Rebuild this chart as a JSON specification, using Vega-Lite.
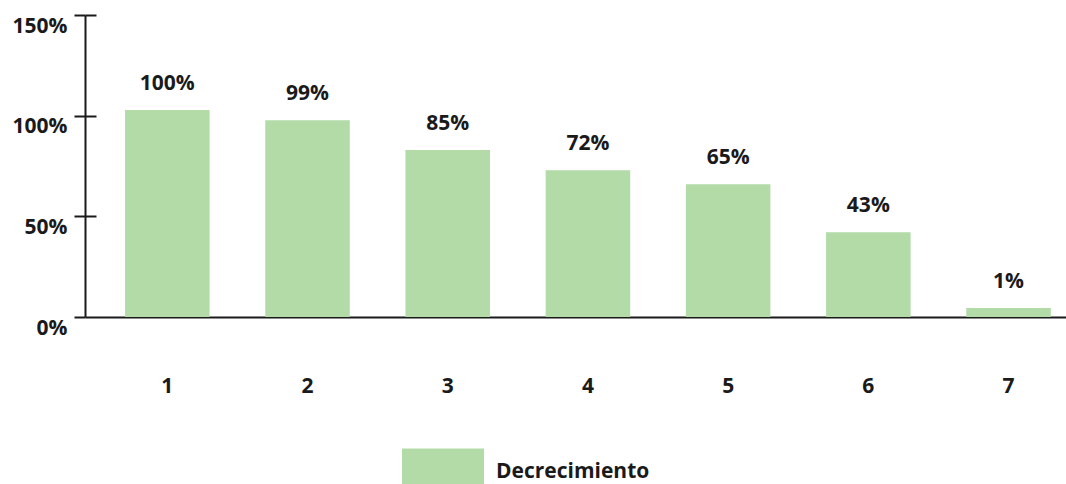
{
  "$schema": "https://vega.github.io/schema/vega-lite/v6.json",
  "autosize": {"type": "none"},
  "padding": {"left": 85, "top": 15, "right": 0, "bottom": 167},
  "width": 981,
  "height": 302,
  "background": "white",
  "config": {
    "view": {"stroke": null},
    "font": "Open Sans",
    "text": {"font": "Open Sans"}
  },
  "data": {
    "values": [
      {"cat": "1", "value": 102.8, "label": "100%", "series": "Decrecimiento"},
      {"cat": "2", "value": 97.7, "label": "99%", "series": "Decrecimiento"},
      {"cat": "3", "value": 82.9, "label": "85%", "series": "Decrecimiento"},
      {"cat": "4", "value": 72.9, "label": "72%", "series": "Decrecimiento"},
      {"cat": "5", "value": 65.9, "label": "65%", "series": "Decrecimiento"},
      {"cat": "6", "value": 42.1, "label": "43%", "series": "Decrecimiento"},
      {"cat": "7", "value": 4.5, "label": "1%", "series": "Decrecimiento"}
    ]
  },
  "encoding": {
    "x": {
      "field": "cat",
      "type": "ordinal",
      "sort": null,
      "scale": {"paddingInner": 0.397, "paddingOuter": 0.197, "align": 0.725},
      "axis": {
        "title": null,
        "labelAngle": 0,
        "ticks": false,
        "tickSize": 0,
        "labelPadding": 58,
        "labelFont": "Open Sans",
        "labelFontWeight": "bold",
        "labelFontSize": 21,
        "labelColor": "#1a1a1a",
        "domainColor": "#1a1a1a",
        "domainWidth": 2
      }
    },
    "y": {
      "field": "value",
      "type": "quantitative",
      "scale": {"domain": [0, 150], "nice": false, "zero": true}
    }
  },
  "layer": [
    {
      "mark": {"type": "bar", "color": "#b2dba8"},
      "encoding": {
        "y": {
          "field": "value",
          "type": "quantitative",
          "scale": {"domain": [0, 150], "nice": false},
          "axis": {
            "title": null,
            "values": [0, 50, 100, 150],
            "labelExpr": "datum.value + '%'",
            "grid": false,
            "tickSize": 11,
            "tickWidth": 2,
            "tickColor": "#1a1a1a",
            "domainColor": "#1a1a1a",
            "domainWidth": 2,
            "labelPadding": 7,
            "labelOffset": 11,
            "labelFont": "Open Sans",
            "labelFontWeight": "bold",
            "labelFontSize": 21,
            "labelColor": "#1a1a1a"
          }
        },
        "color": {
          "field": "series",
          "type": "nominal",
          "scale": {"range": ["#b2dba8"]},
          "legend": {
            "title": null,
            "orient": "none",
            "legendX": 317,
            "legendY": 416,
            "padding": 0,
            "symbolType": "M-1,-0.573H1V0.305H-1Z",
            "symbolSize": 6724,
            "symbolStrokeWidth": 0,
            "symbolOpacity": 1,
            "labelOffset": 12,
            "labelFont": "Open Sans",
            "labelFontWeight": "bold",
            "labelFontSize": 21,
            "labelColor": "#1a1a1a",
            "labelBaseline": "middle"
          }
        }
      }
    },
    {
      "mark": {"type": "text", "dy": -20, "baseline": "alphabetic", "fontWeight": "bold", "fontSize": 21, "color": "#1a1a1a", "font": "Open Sans"},
      "encoding": {
        "y": {
          "field": "value",
          "type": "quantitative",
          "scale": {"domain": [0, 150], "nice": false},
          "axis": {
            "orient": "right",
            "offset": -981,
            "title": null,
            "values": [50, 100, 150],
            "labels": false,
            "domain": false,
            "grid": false,
            "tickSize": 11,
            "tickWidth": 2,
            "tickColor": "#1a1a1a"
          }
        },
        "text": {"field": "label"}
      }
    }
  ],
  "resolve": {"axis": {"y": "independent"}}
}
